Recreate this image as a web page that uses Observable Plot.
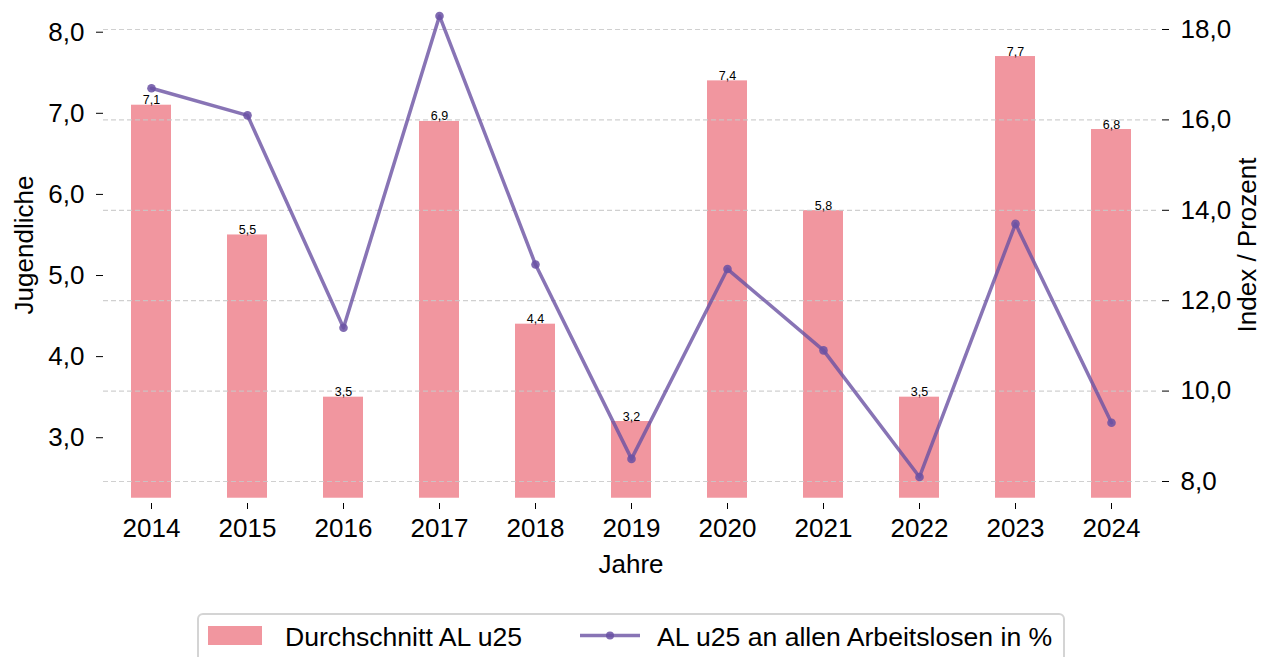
<!DOCTYPE html>
<html>
<head>
<meta charset="utf-8">
<script src="https://cdn.jsdelivr.net/npm/d3@7"></script>
<script src="https://cdn.jsdelivr.net/npm/@observablehq/plot@0.6"></script>
<style>
  body { margin: 0; background: #fff; font-family: "Liberation Sans", Arial, sans-serif; }
  #wrap { position: relative; width: 1263px; height: 657px; overflow: hidden; }
  #legend { position: absolute; left: 197px; top: 613px; width: 868px; height: 60px;
            border: 2px solid #d4d4d4; border-radius: 6px; box-sizing: border-box; }
  .lg-item { position: absolute; font-size: 26.6px; line-height: 26px; top: 9px; color: #000; white-space: nowrap; }
</style>
</head>
<body>
<div id="wrap">
  <div id="chart"></div>
  <div id="legend">
    <svg width="868" height="60" style="position:absolute;left:0;top:0">
      <rect x="9" y="11" width="54" height="19" fill="#f1969f"></rect>
      <line x1="381" x2="441" y1="20.5" y2="20.5" stroke="#6a51a3" stroke-opacity="0.8" stroke-width="3.5"></line>
      <circle cx="411" cy="20.5" r="4" fill="#6a51a3" fill-opacity="0.85"></circle>
    </svg>
    <div class="lg-item" style="left:86px">Durchschnitt AL u25</div>
    <div class="lg-item" style="left:458px">AL u25 an allen Arbeitslosen in %</div>
  </div>
</div>
<script>
const years = [2014, 2015, 2016, 2017, 2018, 2019, 2020, 2021, 2022, 2023, 2024];
const avgU25 = [7.1, 5.5, 3.5, 6.9, 4.4, 3.2, 7.4, 5.8, 3.5, 7.7, 6.8];
const shareU25 = [16.7, 16.1, 11.4, 18.3, 12.8, 8.5, 12.7, 10.9, 8.1, 13.7, 9.3];
const leftTicks = [3, 4, 5, 6, 7, 8];
const rightTicks = [8, 10, 12, 14, 16, 18];

const leftDomain = [2.189, 8.243];
const rightDomain = [7.513, 18.376];
const barBase = 2.254;

const toLeft = r => leftDomain[0] + (r - rightDomain[0]) * (leftDomain[1] - leftDomain[0]) / (rightDomain[1] - rightDomain[0]);
const toRight = l => rightDomain[0] + (l - leftDomain[0]) * (rightDomain[1] - rightDomain[0]) / (leftDomain[1] - leftDomain[0]);
const fmt = v => v.toFixed(1).replace(".", ",");

const bars = years.map((y, i) => ({year: y, value: avgU25[i]}));
const line = years.map((y, i) => ({year: y, value: shareU25[i]}));

const W = 1263, H = 600;
const mTop = 12, mBottom = H - 503, mLeft = 103, mRight = W - 1159;

const chart = Plot.plot({
  width: W,
  height: H,
  marginTop: mTop,
  marginBottom: mBottom,
  marginLeft: mLeft,
  marginRight: mRight,
  style: {fontFamily: "'Liberation Sans', Arial, sans-serif", fontSize: "26px", color: "#000", background: "#fff"},
  x: {type: "band", domain: years, paddingInner: 0.583, paddingOuter: 0.2915, label: null},
  y: {domain: leftDomain, label: null},
  marks: [
    Plot.barY(bars, {x: "year", y1: barBase, y2: "value", fill: "#f1969f"}),
    Plot.ruleY(rightTicks, {y: d => toLeft(d), stroke: "#c8c8c8", strokeOpacity: 0.85, strokeDasharray: "5,3", strokeWidth: 1.2}),
    Plot.text(bars, {x: "year", y: "value", text: d => fmt(d.value), lineAnchor: "bottom", dy: -1, fontSize: 12.5, fill: "#000"}),
    Plot.line(line, {x: "year", y: d => toLeft(d.value), stroke: "#6a51a3", strokeOpacity: 0.8, strokeWidth: 3.5}),
    Plot.dot(line, {x: "year", y: d => toLeft(d.value), r: 4.3, fill: "#6a51a3", fillOpacity: 0.85, stroke: "none"}),
    Plot.axisX({tickSize: 6, tickPadding: 9, tickFormat: d => String(d), label: null, fontSize: 26}),
    Plot.axisY({ticks: leftTicks, tickFormat: fmt, tickSize: 7, tickPadding: 12, label: null, fontSize: 26}),
    Plot.axisY(rightTicks.map(toLeft), {anchor: "right", dx: 2, tickFormat: d => fmt(toRight(d)), tickSize: 7, tickPadding: 12, label: null, fontSize: 26})
  ]
});

const svg = d3.select(chart);
const addLabel = (x, y, rot, txt) => {
  svg.append("text")
    .attr("transform", `translate(${x},${y}) rotate(${rot})`)
    .attr("text-anchor", "middle")
    .attr("dominant-baseline", "central")
    .attr("font-size", 26)
    .attr("fill", "#000")
    .text(txt);
};
addLabel(24, 245, -90, "Jugendliche");
addLabel(1247, 245, -90, "Index / Prozent");
addLabel(631, 564, 0, "Jahre");

document.getElementById("chart").appendChild(chart);
</script>
</body>
</html>
